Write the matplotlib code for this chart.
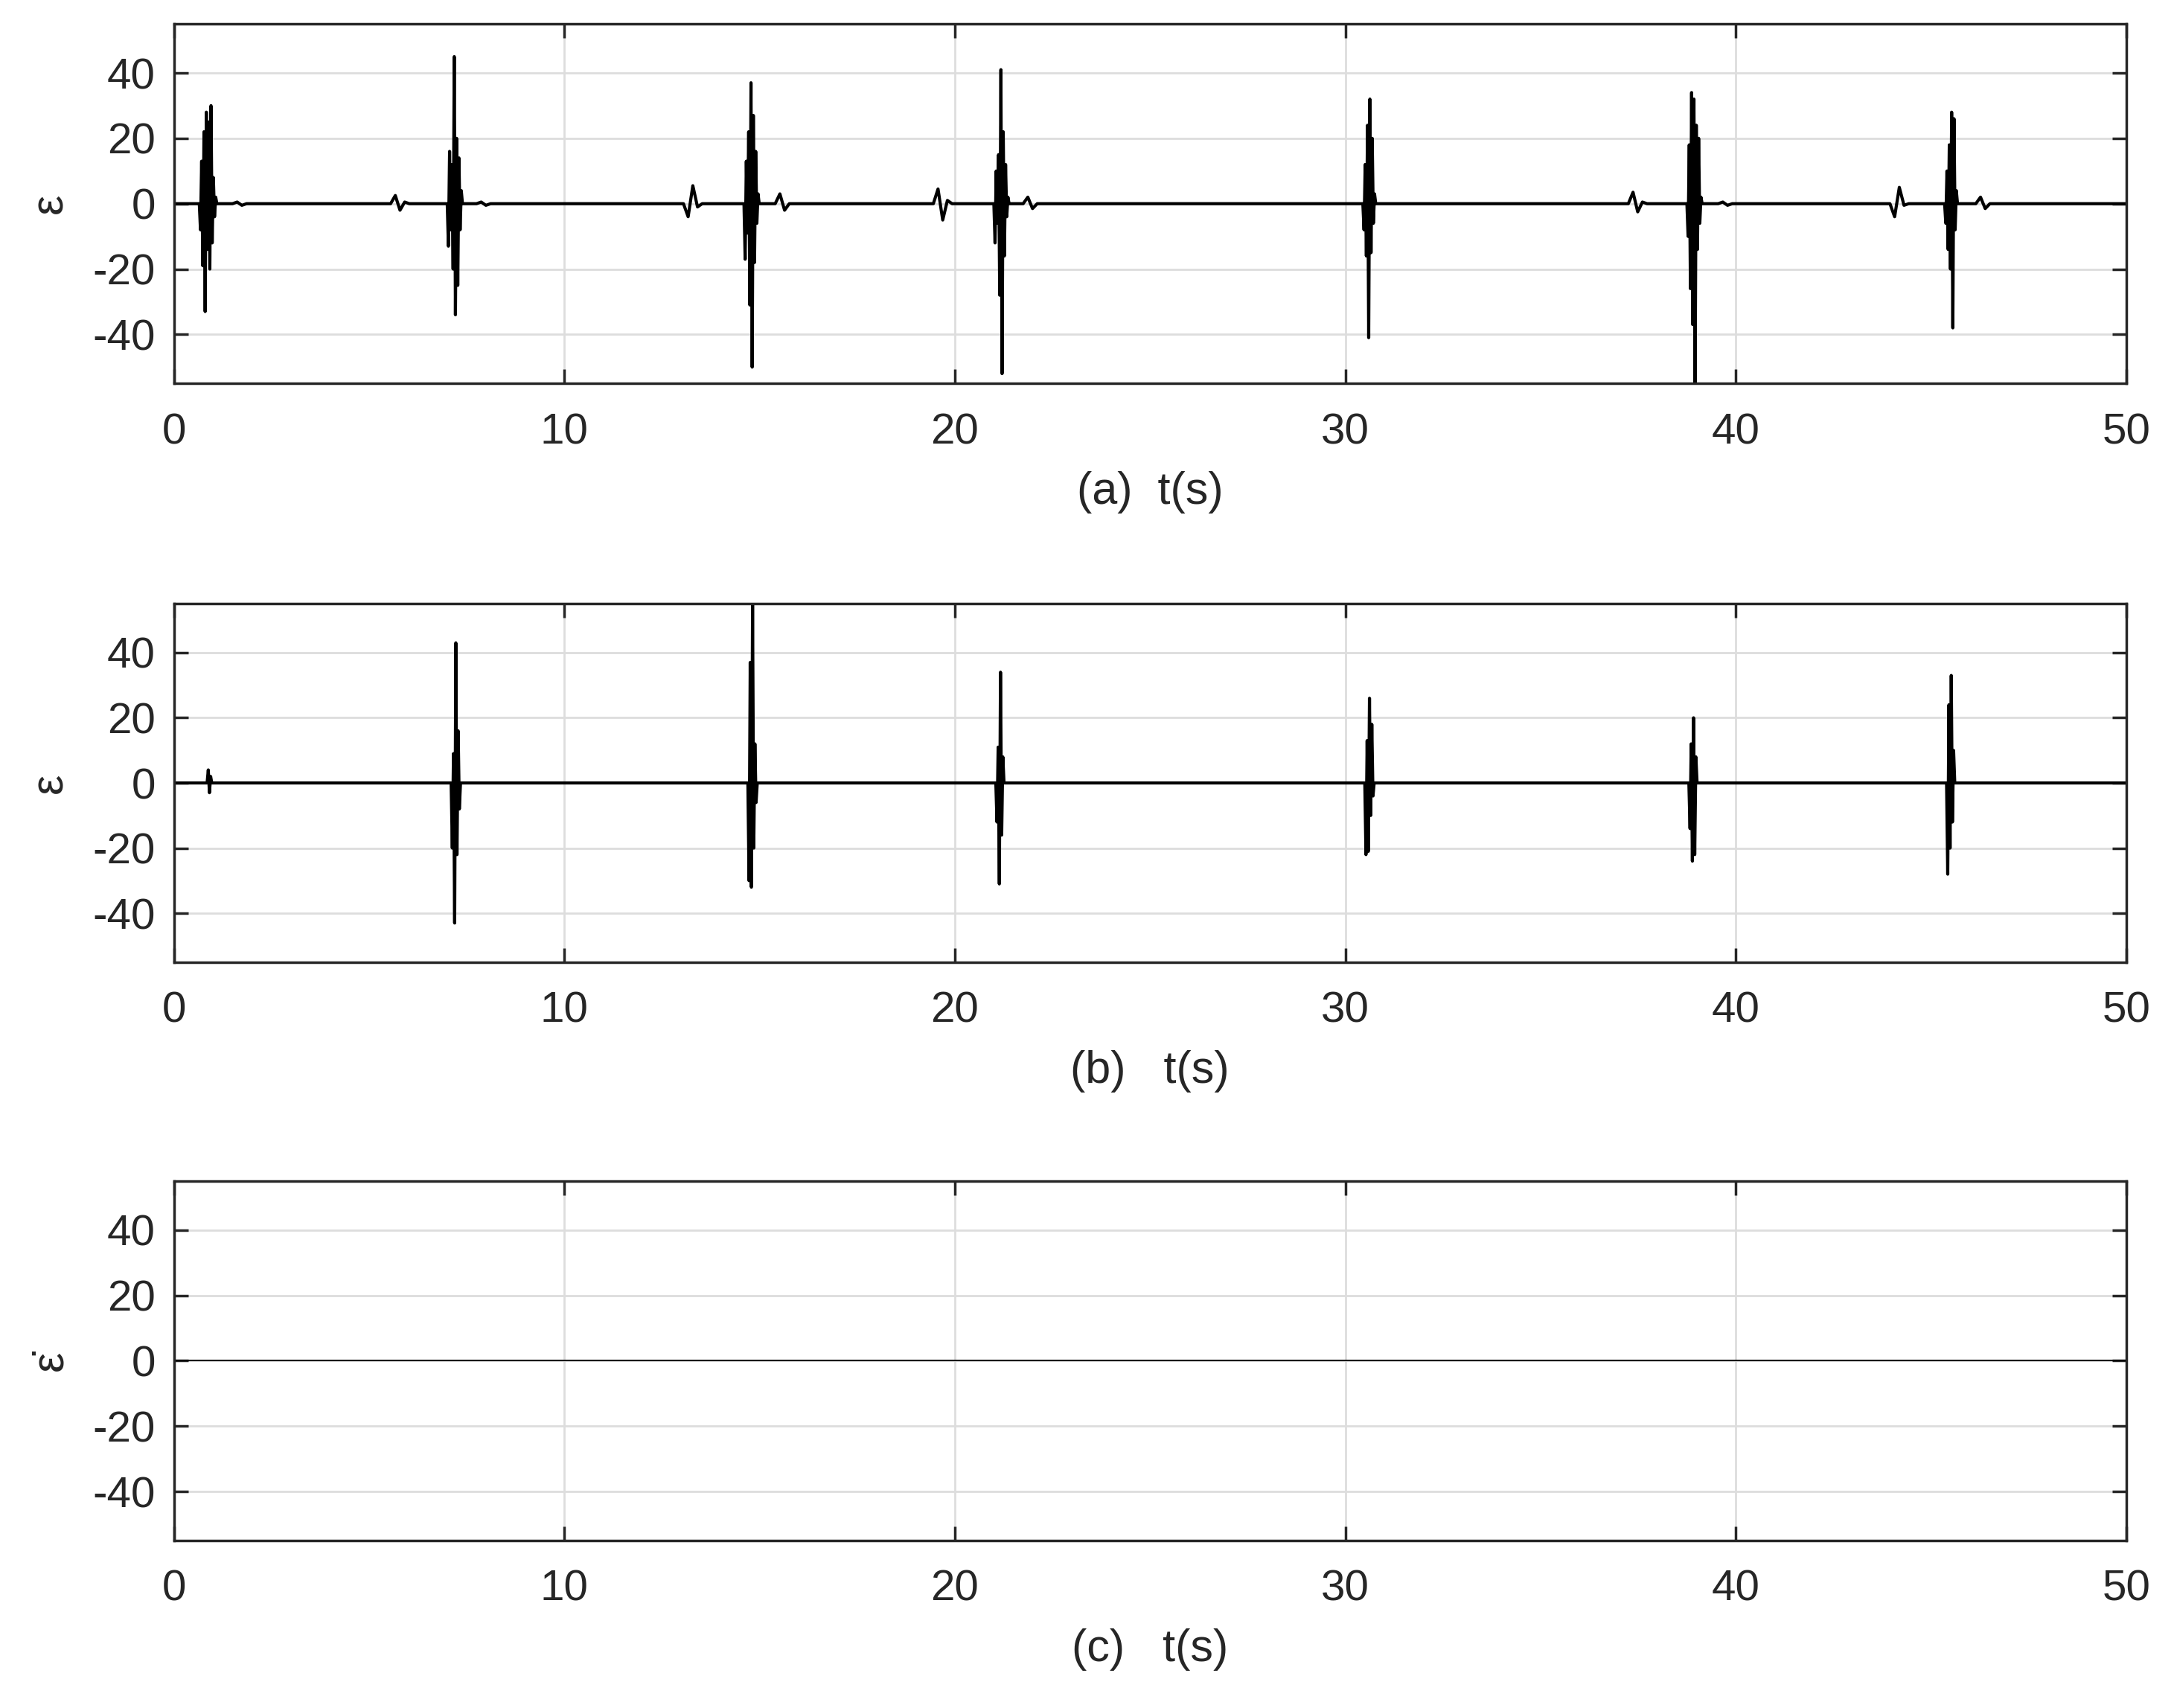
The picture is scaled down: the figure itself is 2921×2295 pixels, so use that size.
import numpy as np
import matplotlib.pyplot as plt

plt.rcParams['font.family'] = ['Liberation Sans', 'DejaVu Sans']
plt.rcParams['axes.unicode_minus'] = False

# burst start times (s) and sampled values, dt = 0.03 s
a_starts = [0.65, 7.0, 14.6, 21.0, 30.45, 38.75, 45.35]
a_bursts = [
    [0, -8, 13, -19, 22, -33, 28, -14, 25, -20, 30, -12, 8, -4, 2, 0],
    [0, -13, 16, -8, 12, -20, 45, -34, 20, -25, 14, -8, 4, 0],
    [0, -17, 13, -9, 22, -31, 37, -50, 27, -18, 16, -6, 3, 0],
    [0, -12, 10, -6, 15, -28, 41, -52, 22, -16, 12, -4, 2, 0],
    [0, -8, 12, -16, 24, -41, 32, -15, 20, -6, 3, 0],
    [0, -10, 18, -26, 34, -37, 32, -55, 24, -14, 20, -6, 2, 0],
    [0, -6, 10, -14, 18, -20, 28, -38, 26, -8, 4, 0],
]
# slow bumps around bursts in (a), dt = 0.12 s
a_bump_starts = [5.55, 13.05, 19.45, 37.25, 43.95, 15.4, 21.75, 1.5, 7.75, 39.55, 46.15]
a_bumps = [
    [0, 2.5, -2, 0.5, 0],
    [0, -4, 5.5, -1, 0],
    [0, 4.5, -5, 1, 0],
    [0, 3.5, -2.5, 0.5, 0],
    [0, -4, 5, -0.5, 0],
    [0, 3, -2, 0],
    [0, 2, -1.5, 0],
    [0, 0.5, -0.5, 0],
    [0, 0.5, -0.5, 0],
    [0, 0.5, -0.5, 0],
    [0, 2, -1.5, 0],
]

b_starts = [0.85, 7.1, 14.7, 21.05, 30.5, 38.8, 45.4]
b_bursts = [
    [0, 4, -3, 2, 0],
    [0, -20, 9, -43, 43, -22, 16, -8, 0],
    [0, -30, 37, -32, 55, -20, 12, -6, 0],
    [0, -12, 11, -31, 34, -16, 8, 0],
    [0, -22, 13, -21, 26, -10, 18, -4, 0],
    [0, -14, 12, -24, 20, -22, 8, 0],
    [0, -28, 24, -20, 33, -12, 10, 0],
]

t_end = 50


def build(groups):
    pts = [(0.0, 0.0), (t_end, 0.0)]
    for starts, bursts, dt in groups:
        for s, vals in zip(starts, bursts):
            for i, v in enumerate(vals):
                pts.append((s + i * dt, v))
    pts.sort()
    t, y = zip(*pts)
    return np.array(t), np.array(y)


ta, ya = build([(a_starts, a_bursts, 0.03), (a_bump_starts, a_bumps, 0.12)])
tb, yb = build([(b_starts, b_bursts, 0.03)])
tc, yc = np.array([0, t_end]), np.array([0, 0])

fig = plt.figure(figsize=(29.21, 22.95), dpi=100)
boxes = [[0.080, 0.7755, 0.898, 0.2105],
         [0.080, 0.4367, 0.898, 0.2098],
         [0.080, 0.0980, 0.898, 0.2106]]
series = [(ta, ya, 3.0), (tb, yb, 3.0), (tc, yc, 1.5)]
xlabels = ['(a)  t(s)', '(b)   t(s)', '(c)   t(s)']
ylabels = ['ε', 'ε', 'ε̇']

for box, (t, y, lw), xl, yl in zip(boxes, series, xlabels, ylabels):
    ax = fig.add_axes(box)
    ax.plot(t, y, color='black', lw=lw)
    ax.set_xlim(0, 50)
    ax.set_ylim(-55, 55)
    ax.set_xticks([0, 10, 20, 30, 40, 50])
    ax.set_yticks([-40, -20, 0, 20, 40])
    ax.grid(True, color='#dddddd', lw=2)
    ax.set_axisbelow(True)
    ax.tick_params(direction='in', length=14, width=2.5, labelsize=42,
                   colors='#262626', pad=18, top=True, right=True)
    ax.tick_params(axis='x', pad=28)
    for sp in ax.spines.values():
        sp.set_linewidth(2.5)
        sp.set_color('#262626')
    ax.set_xlabel(xl, fontsize=44, color='#262626', labelpad=18)
    ax.set_ylabel(yl, fontsize=44, color='#262626', labelpad=20)

fig.savefig('out.png')
